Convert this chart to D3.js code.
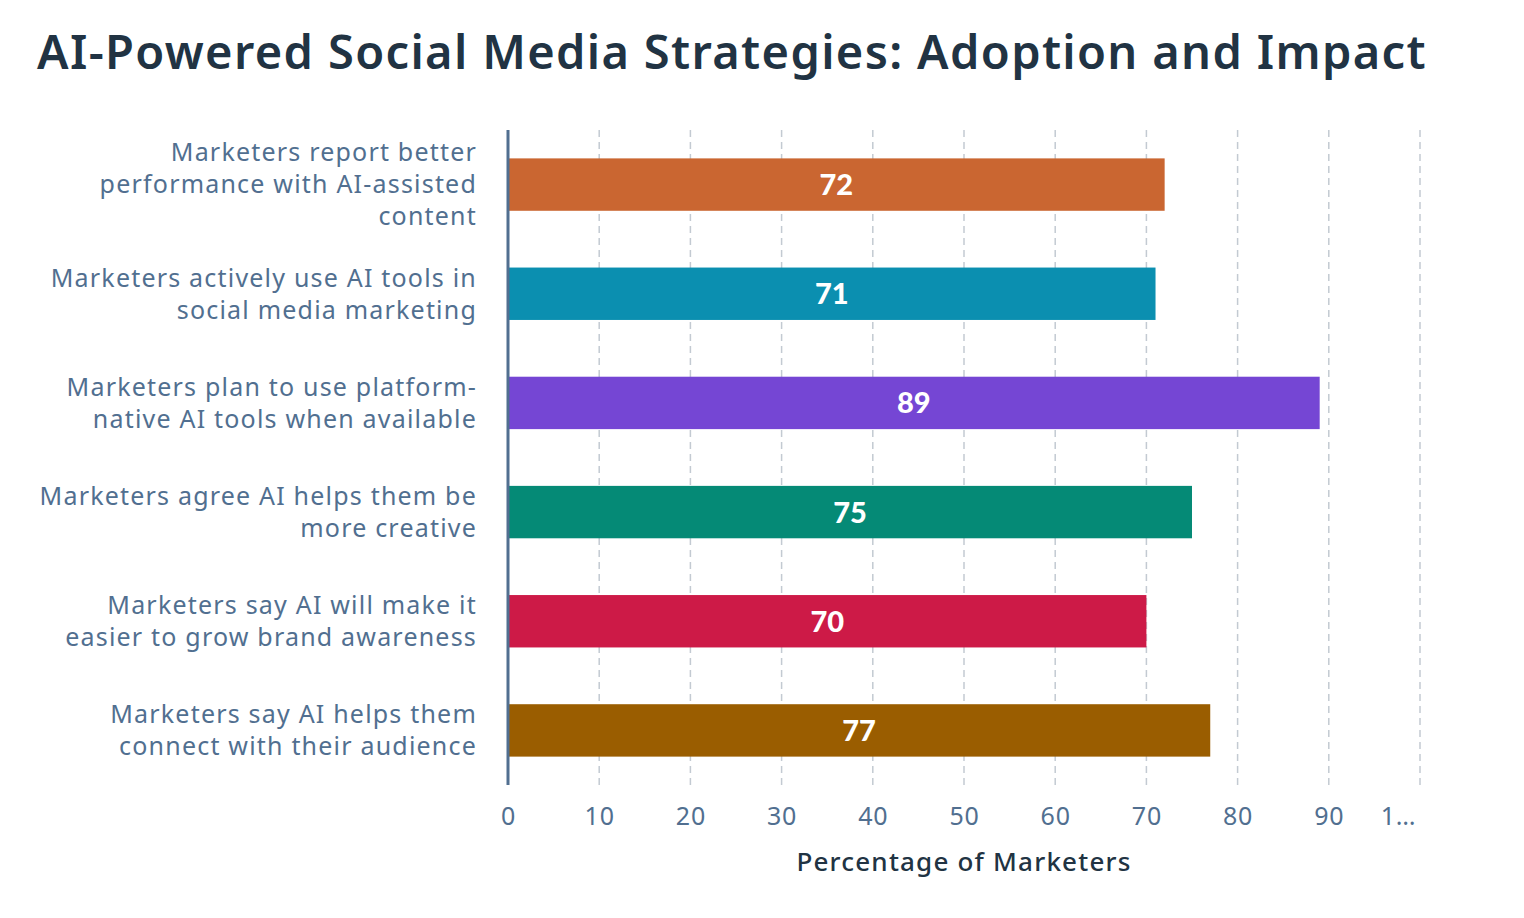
<!DOCTYPE html>
<html>
<head>
<meta charset="utf-8">
<script src="https://cdn.jsdelivr.net/npm/d3@7/dist/d3.min.js"></script>
<style>
  body { margin: 0; background: #fff; }
  text { font-family: "Noto Sans", sans-serif; }
</style>
</head>
<body>
<div id="chart"></div>
<script>
// chart data
var categories = [
    'Marketers report better\nperformance with AI-assisted\ncontent',
    'Marketers actively use AI tools in\nsocial media marketing',
    'Marketers plan to use platform-\nnative AI tools when available',
    'Marketers agree AI helps them be\nmore creative',
    'Marketers say AI will make it\neasier to grow brand awareness',
    'Marketers say AI helps them\nconnect with their audience'
];
var values = [72, 71, 89, 75, 70, 77];
var barColors = ['#ca6631', '#0b8fb0', '#7546d4', '#058a76', '#cd1a47', '#9a5d00'];
var xTicks = [0, 10, 20, 30, 40, 50, 60, 70, 80, 90, 100];

var svgWidth = 1524;
var svgHeight = 918;

var margin = { top: 130, right: 104, bottom: 133, left: 508 };
var width = svgWidth - margin.left - margin.right;
var height = svgHeight - margin.top - margin.bottom;

var svg = d3.select('#chart')
    .append('svg')
    .attr('width', svgWidth)
    .attr('height', svgHeight);

// title
svg.append('text')
    .attr('x', 37)
    .attr('y', 69)
    .attr('font-size', '47px')
    .attr('font-weight', 600)
    .attr('letter-spacing', '1.35px')
    .attr('fill', '#213343')
    .text('AI-Powered Social Media Strategies: Adoption and Impact');

var chartGroup = svg.append('g')
    .attr('transform', `translate(${margin.left}, ${margin.top})`);

// scales
var xScale = d3.scaleLinear()
    .domain([0, 100])
    .range([0, width]);

var yScale = d3.scaleBand()
    .domain(categories)
    .range([0, height])
    .paddingInner(0.52)
    .paddingOuter(0.26);

// dashed grid lines
chartGroup.append('g')
    .selectAll('line')
    .data(xTicks.filter(d => d > 0))
    .enter()
    .append('line')
    .attr('x1', d => xScale(d))
    .attr('x2', d => xScale(d))
    .attr('y1', 0)
    .attr('y2', height)
    .attr('stroke', '#c3cad2')
    .attr('stroke-width', 1.5)
    .attr('stroke-dasharray', '7,5');

// bars
chartGroup.selectAll('rect')
    .data(values)
    .enter()
    .append('rect')
    .attr('x', 0)
    .attr('y', (d, i) => yScale(categories[i]))
    .attr('width', d => xScale(d))
    .attr('height', yScale.bandwidth())
    .attr('fill', (d, i) => barColors[i]);

// value labels
chartGroup.selectAll(null)
    .data(values)
    .enter()
    .append('text')
    .attr('x', d => xScale(d) / 2)
    .attr('y', (d, i) => yScale(categories[i]) + yScale.bandwidth() / 2)
    .attr('dy', '0.36em')
    .attr('text-anchor', 'middle')
    .attr('font-size', '29px')
    .attr('font-weight', 900)
    .attr('fill', '#ffffff')
    .style('font-family', 'Lato, sans-serif')
    .text(d => d);

// x axis (labels only)
var bottomAxis = d3.axisBottom(xScale)
    .tickValues(xTicks)
    .tickSize(0)
    .tickPadding(22)
    .tickFormat(d => d === 100 ? '1…' : d);

var xAxis = chartGroup.append('g')
    .attr('transform', `translate(0, ${height})`)
    .call(bottomAxis);

xAxis.select('.domain').remove();
xAxis.selectAll('text')
    .attr('font-size', '25px')
    .attr('letter-spacing', '0.8px')
    .attr('fill', '#516f90')
    .style('font-family', '"Noto Sans", sans-serif');

// the last label is cut short, so it sits left of its tick
xAxis.selectAll('.tick')
    .filter(d => d === 100)
    .select('text')
    .attr('dx', '-22');

// y axis line
chartGroup.append('line')
    .attr('x1', 0)
    .attr('x2', 0)
    .attr('y1', 0)
    .attr('y2', height)
    .attr('stroke', '#516f90')
    .attr('stroke-width', 3);

// category labels, split on line breaks
var lineHeight = 32;
var labelGroup = chartGroup.selectAll('.ylabel')
    .data(categories)
    .enter()
    .append('text')
    .attr('class', 'ylabel')
    .attr('text-anchor', 'end')
    .attr('font-size', '25px')
    .attr('letter-spacing', '1.2px')
    .attr('fill', '#516f90');

labelGroup.each(function (d) {
    var lines = d.split('\n');
    var mid = yScale(d) + yScale.bandwidth() / 2;
    var startY = mid - (lines.length - 1) * lineHeight / 2;
    var t = d3.select(this);
    lines.forEach((line, k) => {
        t.append('tspan')
            .attr('x', -31)
            .attr('y', startY + k * lineHeight)
            .attr('dy', '0.35em')
            .text(line);
    });
});

// x axis title
chartGroup.append('text')
    .attr('x', width / 2)
    .attr('y', height + 86)
    .attr('text-anchor', 'middle')
    .attr('font-size', '26px')
    .attr('font-weight', 500)
    .attr('letter-spacing', '1.2px')
    .attr('fill', '#213343')
    .text('Percentage of Marketers');
</script>
</body>
</html>
